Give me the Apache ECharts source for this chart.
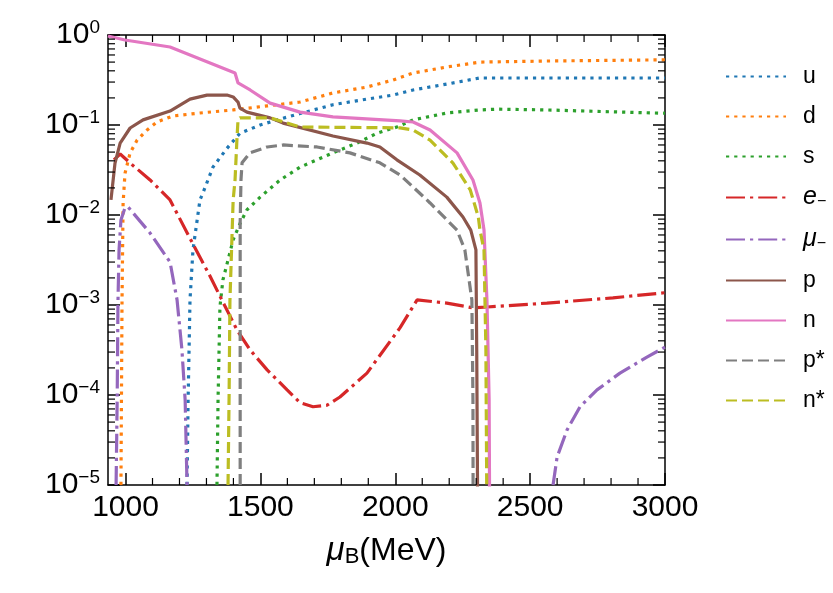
<!DOCTYPE html>
<html>
<head>
<meta charset="utf-8">
<script src="https://cdn.jsdelivr.net/npm/echarts@6/dist/echarts.min.js"></script>
<style>
html, body { margin: 0; padding: 0; background: #fff; }
#chart { width: 833px; height: 593px; }
</style>
</head>
<body>
<div id="chart"></div>
<script>
// axes
const xMin = 935, xMax = 3000;
const xMajor = [1000, 1500, 2000, 2500, 3000];
const xMinor = [1100, 1200, 1300, 1400, 1600, 1700, 1800, 1900, 2100, 2200, 2300, 2400, 2600, 2700, 2800, 2900];
const yMin = 1e-5, yMax = 1;

// particle fractions vs mu_B (MeV)
const uX = [1228, 1232, 1239, 1250, 1276, 1287, 1324, 1376, 1424, 1499, 1580, 1647, 1769, 1895, 1992, 2066, 2191, 2314, 2500, 2750, 3000];
const uY = [1e-5, 8.8e-5, 1.14e-3, 4.1e-3, 0.0147, 0.0176, 0.034, 0.055, 0.081, 0.1, 0.118, 0.134, 0.168, 0.194, 0.215, 0.245, 0.285, 0.333, 0.333, 0.333, 0.333];

const dX = [983, 987, 991, 998, 1017, 1043, 1080, 1117, 1176, 1276, 1399, 1525, 1647, 1769, 1895, 1992, 2066, 2191, 2314, 2562, 3000];
const dY = [1e-5, 1.1e-3, 0.0136, 0.029, 0.049, 0.068, 0.088, 0.108, 0.126, 0.136, 0.147, 0.163, 0.18, 0.227, 0.264, 0.316, 0.378, 0.441, 0.5, 0.514, 0.53];

const sX = [1339, 1343, 1350, 1361, 1380, 1399, 1425, 1450, 1499, 1573, 1647, 1769, 1858, 1932, 2006, 2066, 2191, 2314, 2377, 2562, 2807, 3000];
const sY = [1e-5, 8.8e-5, 9.5e-4, 1.9e-3, 3.16e-3, 5.3e-3, 8.1e-3, 0.0114, 0.0158, 0.0245, 0.034, 0.049, 0.063, 0.081, 0.095, 0.114, 0.136, 0.147, 0.15, 0.147, 0.14, 0.135];

const eX = [957, 980, 1017, 1091, 1165, 1239, 1313, 1361, 1413, 1462, 1525, 1599, 1647, 1695, 1747, 1795, 1895, 2018, 2081, 2191, 2288, 2340, 2562, 2807, 3000];
const eY = [0.041, 0.0476, 0.0378, 0.0245, 0.0147, 5.5e-3, 2.1e-3, 1.08e-3, 5.3e-4, 3.16e-4, 1.9e-4, 1.14e-4, 8.2e-5, 7.4e-5, 7.7e-5, 9.5e-5, 1.75e-4, 5.6e-4, 1.14e-3, 1.05e-3, 9.3e-4, 9.5e-4, 1.05e-3, 1.2e-3, 1.37e-3];

const muX1 = [965, 969, 972, 976, 983, 998, 1009, 1091, 1165, 1191, 1209, 1221, 1228];
const muY1 = [1e-5, 8.8e-5, 1.1e-3, 4.1e-3, 8.8e-3, 0.012, 0.0123, 6.3e-3, 3.0e-3, 1.14e-3, 3.2e-4, 8.8e-5, 1e-5];
const muX2 = [2585, 2600, 2637, 2685, 2748, 2833, 2933, 3000];
const muY2 = [1e-5, 2.05e-5, 4.1e-5, 7.4e-5, 1.14e-4, 1.75e-4, 2.64e-4, 3.4e-4];

const pX = [946, 961, 980, 1017, 1065, 1165, 1239, 1302, 1376, 1399, 1417, 1424, 1450, 1536, 1584, 1769, 1895, 1943, 2006, 2091, 2191, 2251, 2280, 2299, 2302, 2305, 2306];
const pY = [0.0147, 0.0378, 0.063, 0.0926, 0.114, 0.143, 0.194, 0.215, 0.215, 0.205, 0.18, 0.154, 0.139, 0.12, 0.105, 0.0755, 0.063, 0.057, 0.041, 0.0278, 0.0158, 0.0095, 0.0068, 0.0041, 3.2e-4, 1e-5, 1e-6];

const nX = [935, 998, 1165, 1406, 1417, 1462, 1536, 1647, 1769, 2018, 2066, 2129, 2229, 2288, 2314, 2329, 2340, 2348, 2351];
const nY = [0.975, 0.88, 0.736, 0.378, 0.293, 0.245, 0.175, 0.139, 0.123, 0.111, 0.108, 0.088, 0.049, 0.0245, 0.0136, 0.0068, 1.1e-3, 8.8e-5, 1e-6];

const psX = [1425, 1425, 1428, 1432, 1461, 1525, 1584, 1710, 1832, 1943, 2018, 2066, 2129, 2229, 2258, 2284, 2288, 2289];
const psY = [1e-5, 8.1e-3, 0.0245, 0.038, 0.049, 0.057, 0.06, 0.057, 0.049, 0.038, 0.0278, 0.0205, 0.0136, 0.0068, 0.0041, 1.14e-3, 8.8e-5, 1e-6];

const nsX = [1380, 1384, 1387, 1399, 1406, 1413, 1417, 1424, 1536, 1647, 2018, 2066, 2129, 2214, 2278, 2308, 2314, 2329, 2336, 2341];
const nsY = [1e-5, 1e-4, 1.1e-3, 0.0147, 0.0245, 0.069, 0.114, 0.12, 0.12, 0.095, 0.093, 0.088, 0.068, 0.0378, 0.019, 0.0095, 0.0068, 0.0041, 3.2e-4, 1e-6];

// minor ticks of the log axis: 2..9 in every decade
const yMinor = [];
for (let k = -5; k < 0; k++) {
    for (let m = 2; m <= 9; m++) yMinor.push(m * Math.pow(10, k));
}

const FONT = 'Liberation Sans';
const LW = 3.2;
const dotted = [3.2, 5];
const dashDot = [19, 5, 3.2, 5];
const dashed = [11, 5];

const zip = (xs, ys) => xs.map((x, i) => [x, ys[i]]);

const lineSeries = (name, data, color, type) => ({
    name: name,
    type: 'line',
    data: data,
    symbol: 'none',
    clip: true,
    animation: false,
    lineStyle: { color: color, width: LW, type: type },
    itemStyle: { color: color },
    z: 3
});

const chart = echarts.init(document.getElementById('chart'));

const legendNames = ['u', 'd', 's', 'e', 'mu', 'p', 'n', 'p*', 'n*'];

const option = {
    animation: false,
    backgroundColor: '#fff',
    grid: { left: 108, right: 168, top: 35, bottom: 108 },
    legend: {
        data: legendNames,
        orient: 'vertical',
        left: 720,
        top: 60,
        itemWidth: 60,
        itemHeight: 20,
        itemGap: 17,
        selectedMode: false,
        itemStyle: { opacity: 0 },
        formatter: function (name) {
            if (name === 'e') return '{it|e}{sub|−}';
            if (name === 'mu') return '{it|μ}{sub|−}';
            return name;
        },
        textStyle: {
            fontFamily: FONT,
            fontSize: 23,
            color: '#000',
            padding: [0, 0, 0, 12],
            rich: {
                it: { fontFamily: FONT, fontSize: 25, fontStyle: 'italic', color: '#000' },
                sub: { fontFamily: FONT, fontSize: 16, color: '#000', verticalAlign: 'bottom', padding: [8, 0, 0, 0] }
            }
        }
    },
    xAxis: [
        {
            type: 'value',
            min: xMin,
            max: xMax,
            position: 'bottom',
            name: '{it|μ}{sub|B}{n|(MeV)}',
            nameLocation: 'middle',
            nameGap: 49,
            nameTextStyle: {
                rich: {
                    it: { fontFamily: FONT, fontSize: 33, fontStyle: 'italic', color: '#000' },
                    sub: { fontFamily: FONT, fontSize: 22, color: '#000', verticalAlign: 'bottom', padding: [12, 0, 0, 0] },
                    n: { fontFamily: FONT, fontSize: 32, color: '#000' }
                }
            },
            axisLine: { lineStyle: { color: '#000', width: 1.5 } },
            axisTick: { inside: true, length: 12, lineStyle: { color: '#000', width: 1.5 }, customValues: xMajor },
            axisLabel: {
                fontFamily: FONT, fontSize: 30, color: '#000', margin: 8, customValues: xMajor,
                formatter: v => String(v)
            },
            splitLine: { show: false }
        },
        {
            type: 'value',
            min: xMin,
            max: xMax,
            position: 'top',
            axisLine: { lineStyle: { color: '#000', width: 1.5 } },
            axisTick: { inside: true, length: 12, lineStyle: { color: '#000', width: 1.5 }, customValues: xMajor },
            axisLabel: { show: false },
            splitLine: { show: false }
        }
    ],
    yAxis: [
        {
            type: 'log',
            logBase: 10,
            min: yMin,
            max: yMax,
            position: 'left',
            axisLine: { show: true, lineStyle: { color: '#000', width: 1.5 } },
            axisTick: { show: true, inside: true, length: 12, lineStyle: { color: '#000', width: 1.5 } },
            axisLabel: {
                margin: 8,
                formatter: function (v) {
                    const e = Math.round(Math.log10(v));
                    return '{b|10}{s|' + (e === 0 ? '0' : '−' + (-e)) + '}';
                },
                rich: {
                    b: { fontFamily: FONT, fontSize: 30, color: '#000' },
                    s: { fontFamily: FONT, fontSize: 19, color: '#000', verticalAlign: 'top', padding: [0, 0, 14, 0] }
                }
            },
            splitLine: { show: false }
        },
        {
            type: 'log',
            logBase: 10,
            min: yMin,
            max: yMax,
            position: 'right',
            axisLine: { show: true, lineStyle: { color: '#000', width: 1.5 } },
            axisTick: { show: true, inside: true, length: 12, lineStyle: { color: '#000', width: 1.5 } },
            axisLabel: { show: false },
            splitLine: { show: false }
        }
    ],
    series: [
        lineSeries('u', zip(uX, uY), '#1f77b4', dotted),
        lineSeries('d', zip(dX, dY), '#ff7f0e', dotted),
        lineSeries('s', zip(sX, sY), '#2ca02c', dotted),
        lineSeries('e', zip(eX, eY), '#d62728', dashDot),
        lineSeries('mu', zip(muX1, muY1).concat([['-', '-']], zip(muX2, muY2)), '#9467bd', dashDot),
        lineSeries('p', zip(pX, pY), '#8c564b', 'solid'),
        lineSeries('n', zip(nX, nY), '#e377c2', 'solid'),
        lineSeries('p*', zip(psX, psY), '#7f7f7f', dashed),
        lineSeries('n*', zip(nsX, nsY), '#bcbd22', dashed),
        {
            type: 'custom',
            silent: true,
            data: yMinor.map(v => [xMin, v]),
            renderItem: function (params, api) {
                const cs = params.coordSys;
                const y = api.coord([xMin, api.value(1)])[1];
                const st = { stroke: '#000', lineWidth: 1.2 };
                return {
                    type: 'group',
                    children: [
                        { type: 'line', shape: { x1: cs.x, y1: y, x2: cs.x + 7, y2: y }, style: st },
                        { type: 'line', shape: { x1: cs.x + cs.width - 7, y1: y, x2: cs.x + cs.width, y2: y }, style: st }
                    ]
                };
            },
            z: 5
        },
        {
            type: 'custom',
            silent: true,
            data: xMinor.map(v => [v, yMin]),
            renderItem: function (params, api) {
                const cs = params.coordSys;
                const x = api.coord([api.value(0), yMin])[0];
                const st = { stroke: '#000', lineWidth: 1.2 };
                return {
                    type: 'group',
                    children: [
                        { type: 'line', shape: { x1: x, y1: cs.y + cs.height - 7, x2: x, y2: cs.y + cs.height }, style: st },
                        { type: 'line', shape: { x1: x, y1: cs.y, x2: x, y2: cs.y + 7 }, style: st }
                    ]
                };
            },
            z: 5
        }
    ]
};

chart.setOption(option);
</script>
</body>
</html>
